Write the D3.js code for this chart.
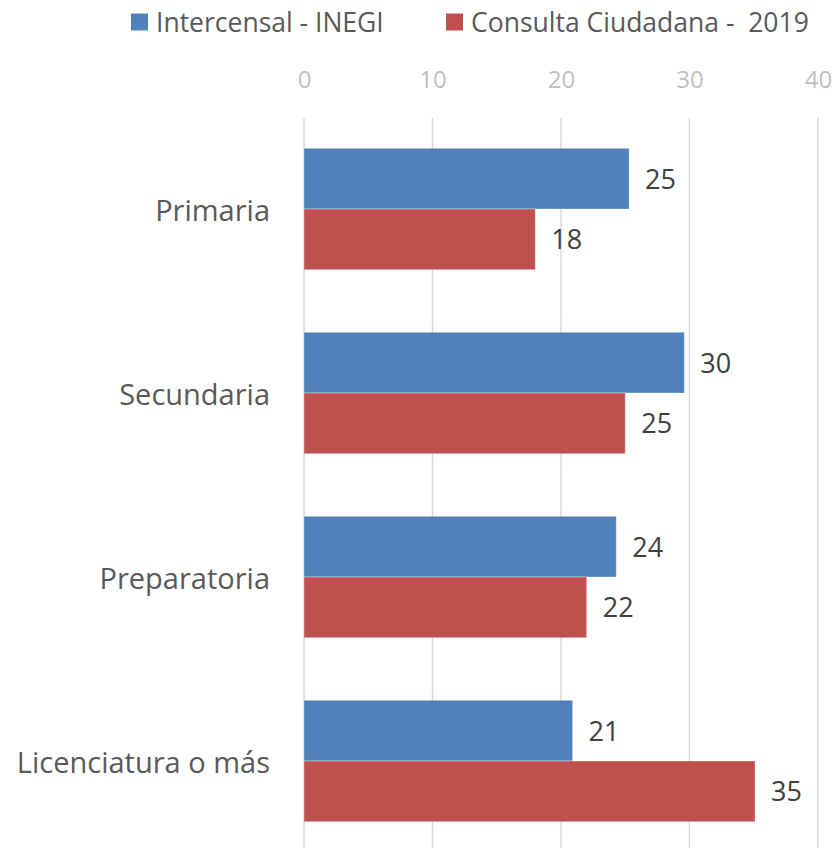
<!DOCTYPE html>
<html>
<head>
<meta charset="utf-8">
<script src="https://cdn.jsdelivr.net/npm/d3@7"></script>
<style>
	body { margin: 0; background: #fff; }
	text { font-family: "Open Sans", "Noto Sans", sans-serif; }
</style>
</head>
<body>
<svg id="chart" width="838" height="848"></svg>
<script>
const categories = ["Primaria", "Secundaria", "Preparatoria", "Licenciatura o más"]
const seriesNames = ["Intercensal - INEGI", "Consulta Ciudadana -  2019"]
const intercensal = [25.3, 29.6, 24.3, 20.9]
const consulta = [18.0, 25.0, 22.0, 35.1]
const ticks = [0, 10, 20, 30, 40]

const colours = ["#4F81BD", "#C0504D"]

const margin = { top: 117, left: 304 }
const width = 818 - margin.left
const height = 736

const svg = d3.select("#chart")

const x = d3.scaleLinear()
	.domain([0, 40])
	.range([margin.left, margin.left + width])

const y = d3.scaleBand()
	.domain(categories)
	.range([margin.top, margin.top + height])
	.paddingInner(0.34)
	.paddingOuter(0.17)

const inner = d3.scaleBand()
	.domain([0, 1])
	.range([0, y.bandwidth()])

// gridlines
svg.append("g")
	.selectAll("line")
	.data(ticks)
	.join("line")
	.attr("x1", d => x(d))
	.attr("x2", d => x(d))
	.attr("y1", margin.top + 1)
	.attr("y2", 848)
	.attr("stroke", "#D9D9D9")
	.attr("stroke-width", 1.5)

// top axis labels
const axis = d3.axisTop(x).tickValues(ticks).tickSize(0).tickPadding(0)
const axisG = svg.append("g")
	.attr("transform", "translate(0, 88)")
	.call(axis)
axisG.select(".domain").remove()
axisG.selectAll("text")
	.attr("fill", "#BFBFBF")
	.style("font-size", "24px")
	.style("font-family", "\"Open Sans\", \"Noto Sans\", sans-serif")

// category labels
svg.append("g")
	.selectAll("text")
	.data(categories)
	.join("text")
	.attr("x", 270)
	.attr("y", d => y(d) + y.bandwidth() / 2)
	.attr("dy", "0.42em")
	.attr("text-anchor", "end")
	.attr("fill", "#595959")
	.style("font-size", "29px")
	.text(d => d)

// bars
const rows = categories.map((c, i) => ({ cat: c, vals: [intercensal[i], consulta[i]] }))
const groups = svg.append("g")
	.selectAll("g")
	.data(rows)
	.join("g")
	.attr("transform", d => `translate(0, ${y(d.cat)})`)

groups.selectAll("rect")
	.data(d => d.vals)
	.join("rect")
	.attr("x", x(0))
	.attr("y", (d, i) => inner(i))
	.attr("width", d => x(d) - x(0))
	.attr("height", inner.bandwidth())
	.attr("fill", (d, i) => colours[i])
	.attr("stroke", "#fff")
	.attr("stroke-opacity", 0.35)
	.attr("stroke-width", 1)

groups.selectAll("text")
	.data(d => d.vals)
	.join("text")
	.attr("x", d => x(d) + 16)
	.attr("y", (d, i) => inner(i) + inner.bandwidth() / 2)
	.attr("dy", "0.37em")
	.attr("fill", "#404040")
	.style("font-size", "27px")
	.text(d => d3.format(".0f")(d))

// legend
const legendX = [131, 446]
const legend = svg.append("g")
	.selectAll("g")
	.data(seriesNames)
	.join("g")
	.attr("transform", (d, i) => `translate(${legendX[i]}, 13.5)`)
legend.append("rect")
	.attr("width", 17)
	.attr("height", 17)
	.attr("fill", (d, i) => colours[i])
legend.append("text")
	.attr("x", 25)
	.attr("y", 18.5)
	.attr("fill", "#595959")
	.style("font-size", "26.5px")
	.style("white-space", "pre")
	.text(d => d)
</script>
</body>
</html>
